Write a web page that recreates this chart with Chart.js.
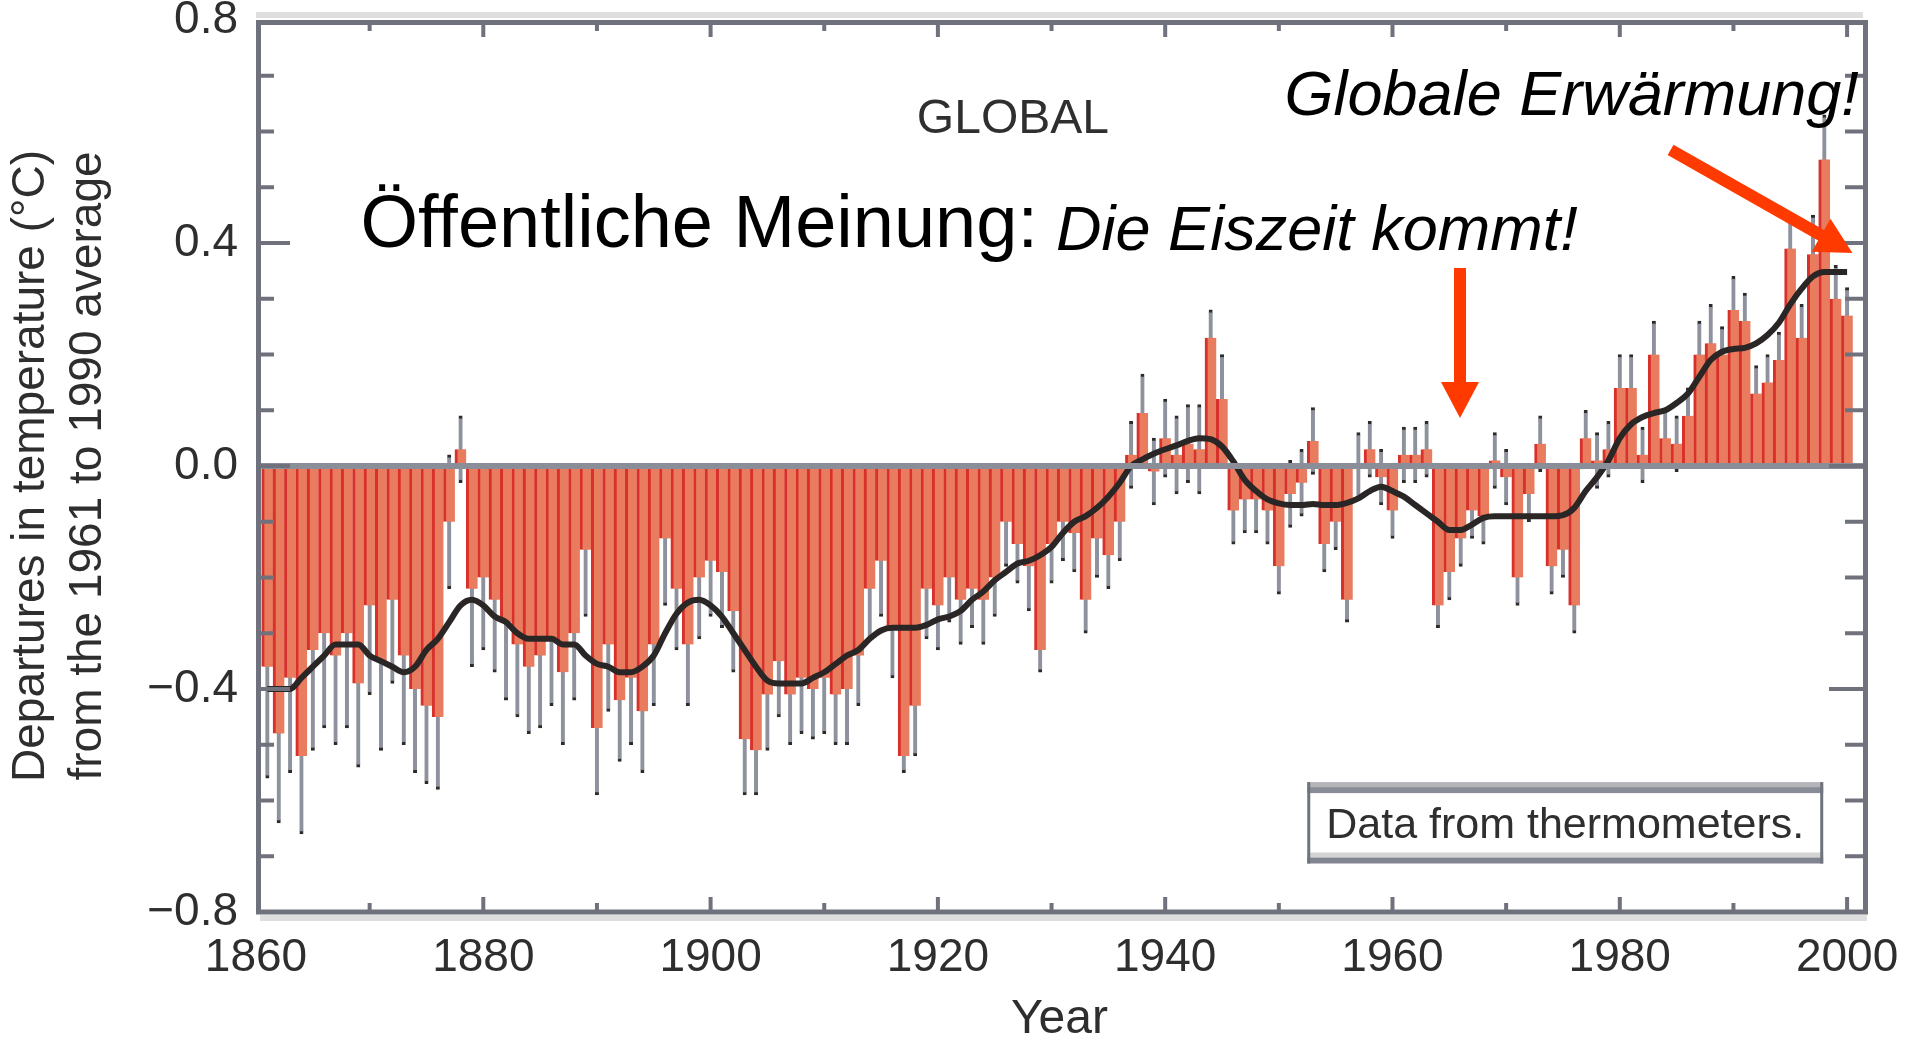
<!DOCTYPE html>
<html lang="de">
<head>
<meta charset="utf-8">
<title>Global temperature 1861-2000</title>
<script src="https://cdn.jsdelivr.net/npm/chart.js@4.4.1/dist/chart.umd.min.js"></script>
<style>
    html, body { margin: 0; padding: 0; background: #fff; }
    #wrap { width: 1920px; height: 1041px; }
</style>
</head>
<body>
<div id="wrap"><canvas id="tempChart" width="1920" height="1041"></canvas></div>
<script>
// Annual global temperature departures (deg C), 1861 to 2000
const firstYear = 1861;

const anomaly = [
    -0.36, -0.48, -0.38, -0.52, -0.33, -0.30, -0.34, -0.30, -0.39, -0.25,
    -0.35, -0.24, -0.34, -0.40, -0.43, -0.45, -0.10, 0.03, -0.22, -0.20,
    -0.24, -0.28, -0.32, -0.36, -0.34, -0.31, -0.37, -0.30, -0.15, -0.47,
    -0.32, -0.42, -0.38, -0.44, -0.32, -0.13, -0.22, -0.32, -0.20, -0.17,
    -0.19, -0.26, -0.49, -0.51, -0.41, -0.35, -0.41, -0.38, -0.40, -0.38,
    -0.41, -0.40, -0.34, -0.22, -0.17, -0.29, -0.52, -0.43, -0.22, -0.25,
    -0.20, -0.24, -0.22, -0.24, -0.20, -0.10, -0.14, -0.18, -0.33, -0.14,
    -0.10, -0.12, -0.24, -0.13, -0.16, -0.10, 0.02, 0.095, -0.01, 0.05,
    0.02, 0.04, 0.03, 0.23, 0.12, -0.08, -0.06, -0.06, -0.08, -0.18,
    -0.05, -0.03, 0.045, -0.14, -0.10, -0.24, 0.00, 0.03, -0.02, -0.08,
    0.02, 0.02, 0.03, -0.25, -0.19, -0.13, -0.08, -0.09, 0.01, -0.02,
    -0.20, -0.05, 0.04, -0.18, -0.15, -0.25, 0.05, 0.01, 0.03, 0.14,
    0.14, 0.02, 0.20, 0.05, 0.04, 0.09, 0.20, 0.22, 0.20, 0.28,
    0.26, 0.13, 0.15, 0.19, 0.39, 0.23, 0.38, 0.55, 0.30, 0.27
];

// half length of the grey whiskers
const uncertainty = [
    0.20, 0.16, 0.17, 0.14, 0.18, 0.17, 0.16, 0.17, 0.15, 0.16,
    0.16, 0.15, 0.16, 0.15, 0.14, 0.13, 0.12, 0.06, 0.14, 0.13,
    0.13, 0.14, 0.13, 0.12, 0.13, 0.12, 0.13, 0.12, 0.12, 0.12,
    0.12, 0.11, 0.12, 0.11, 0.11, 0.12, 0.11, 0.11, 0.11, 0.10,
    0.10, 0.11, 0.10, 0.08, 0.10, 0.10, 0.09, 0.10, 0.09, 0.10,
    0.09, 0.10, 0.09, 0.09, 0.10, 0.09, 0.03, 0.09, 0.09, 0.08,
    0.08, 0.08, 0.07, 0.08, 0.07, 0.08, 0.07, 0.08, 0.04, 0.07,
    0.07, 0.07, 0.06, 0.07, 0.06, 0.07, 0.06, 0.07, 0.06, 0.07,
    0.07, 0.07, 0.08, 0.05, 0.08, 0.06, 0.06, 0.06, 0.06, 0.05,
    0.06, 0.06, 0.06, 0.05, 0.05, 0.04, 0.06, 0.05, 0.05, 0.05,
    0.05, 0.05, 0.05, 0.04, 0.05, 0.05, 0.05, 0.05, 0.05, 0.05,
    0.05, 0.05, 0.05, 0.05, 0.05, 0.05, 0.05, 0.05, 0.05, 0.06,
    0.06, 0.05, 0.06, 0.05, 0.05, 0.05, 0.06, 0.07, 0.05, 0.06,
    0.05, 0.05, 0.05, 0.05, 0.05, 0.06, 0.07, 0.08, 0.06, 0.05
];

// the black smoothed curve
const smoothed = [
    -0.40, -0.40, -0.40, -0.38, -0.36, -0.34, -0.32, -0.32, -0.32, -0.34,
    -0.35, -0.36, -0.37, -0.36, -0.33, -0.31, -0.28, -0.25, -0.24, -0.25,
    -0.27, -0.28, -0.30, -0.31, -0.31, -0.31, -0.32, -0.32, -0.34, -0.355,
    -0.36, -0.37, -0.37, -0.36, -0.34, -0.30, -0.265, -0.245, -0.24, -0.25,
    -0.27, -0.30, -0.33, -0.36, -0.385, -0.39, -0.39, -0.39, -0.38, -0.37,
    -0.355, -0.34, -0.33, -0.31, -0.295, -0.29, -0.29, -0.29, -0.285, -0.275,
    -0.27, -0.26, -0.24, -0.225, -0.205, -0.19, -0.175, -0.17, -0.16, -0.145,
    -0.12, -0.10, -0.09, -0.075, -0.055, -0.03, 0.00, 0.012, 0.022, 0.03,
    0.037, 0.045, 0.05, 0.048, 0.035, 0.008, -0.025, -0.045, -0.06, -0.067,
    -0.07, -0.07, -0.068, -0.07, -0.07, -0.066, -0.058, -0.045, -0.037, -0.045,
    -0.055, -0.07, -0.085, -0.10, -0.115, -0.115, -0.105, -0.093, -0.09, -0.09,
    -0.09, -0.09, -0.09, -0.09, -0.088, -0.075, -0.045, -0.02, 0.01, 0.05,
    0.075, 0.088, 0.095, 0.10, 0.113, 0.13, 0.16, 0.19, 0.205, 0.21,
    0.212, 0.22, 0.235, 0.257, 0.29, 0.318, 0.34, 0.348, 0.348, 0.348
];

const years = anomaly.map((_, i) => firstYear + i);

const xTickLabels = ['1860', '1880', '1900', '1920', '1940', '1960', '1980', '2000'];
const yTickLabels = ['\u22120.8', '\u22120.4', '0.0', '0.4', '0.8'];
const yTitleLines = ['Departures in temperature (\u00B0C)', 'from the 1961 to 1990 average'];
const xTitle = 'Year';

const FONT = '"Liberation Sans", Arial, Helvetica, sans-serif';
const INK = '#2e2e2e';
const AXIS_GREY = '#6f727c';

// texts laid over the plot, anchored in data units (year, deg C)
const notes = [
    { text: 'GLOBAL', x: 1926.6, y: 0.598, font: '48px ' + FONT, color: '#2f2f2f', align: 'center' },
    { text: '\u00D6ffentliche Meinung:', x: 1869.2, y: 0.393, font: '74px ' + FONT, color: '#000', align: 'left' },
    { text: 'Die Eiszeit kommt!', x: 1930.4, y: 0.388, font: 'italic 63px ' + FONT, color: '#000', align: 'left' },
    { text: 'Globale Erw\u00E4rmung!', x: 1950.5, y: 0.630, font: 'italic 63px ' + FONT, color: '#000', align: 'left' }
];

// red arrows, tail and tip in data units
const arrows = [
    { from: [1965.94, 0.355], to: [1965.94, 0.086] },
    { from: [1984.47, 0.567], to: [2000.47, 0.382] }
];

// "Data from thermometers." box, corners in data units
const sourceBox = { text: 'Data from thermometers.', x0: 1952.5, x1: 1997.9, y0: -0.567, y1: -0.713, base: -0.668 };

// Frame, zero line and inward tick marks
const framePlugin = {
    id: 'frame',
    afterDatasetsDraw(chart) {
        const { ctx, chartArea: a, scales: { x, y } } = chart;
        ctx.save();

        // thick zero line
        const y0 = y.getPixelForValue(0);
        ctx.strokeStyle = '#8a8e99';
        ctx.lineWidth = 6;
        ctx.beginPath();
        ctx.moveTo(a.left, y0);
        ctx.lineTo(a.right, y0);
        ctx.stroke();

        // pale shadow above and below the box
        ctx.fillStyle = '#dedede';
        ctx.fillRect(a.left, a.top - 8, a.right - a.left, 6);
        ctx.fillRect(a.left + 4, a.bottom + 3, a.right - a.left, 6);

        ctx.strokeStyle = AXIS_GREY;
        ctx.lineWidth = 5;
        ctx.strokeRect(a.left + 2.5, a.top + 2.5, a.right - a.left, a.bottom - a.top - 2.5);

        ctx.lineWidth = 4;
        ctx.beginPath();
        for (let k = -7; k <= 7; k++) {
            const py = y.getPixelForValue(k / 10);
            const len = k % 4 === 0 ? 34 : 18;
            ctx.moveTo(a.left, py);
            ctx.lineTo(a.left + len, py);
            ctx.moveTo(a.right, py);
            ctx.lineTo(a.right - len, py);
        }
        for (let yr = 1870; yr <= 2000; yr += 10) {
            const px = x.getPixelForValue(yr);
            const len = yr % 20 === 0 ? 15 : 9;
            ctx.moveTo(px, a.bottom);
            ctx.lineTo(px, a.bottom - len);
            ctx.moveTo(px, a.top + 2);
            ctx.lineTo(px, a.top + 2 + len);
        }
        ctx.stroke();
        ctx.restore();
    }
};

function drawArrow(ctx, x1, y1, x2, y2) {
    const dx = x2 - x1;
    const dy = y2 - y1;
    const len = Math.hypot(dx, dy);
    const ux = dx / len;
    const uy = dy / len;
    const head = 36;
    const half = 19;
    const bx = x2 - ux * head;
    const by = y2 - uy * head;

    ctx.lineWidth = 12;
    ctx.lineCap = 'butt';
    ctx.beginPath();
    ctx.moveTo(x1, y1);
    ctx.lineTo(bx + ux * 2, by + uy * 2);
    ctx.stroke();

    ctx.beginPath();
    ctx.moveTo(x2, y2);
    ctx.lineTo(bx - uy * half, by + ux * half);
    ctx.lineTo(bx + uy * half, by - ux * half);
    ctx.closePath();
    ctx.fill();
}

// Annotation texts, arrows and the source box
const notesPlugin = {
    id: 'notes',
    afterDraw(chart) {
        const { ctx, scales: { x, y } } = chart;
        ctx.save();

        notes.forEach(n => {
            ctx.font = n.font;
            ctx.fillStyle = n.color;
            ctx.textAlign = n.align;
            ctx.textBaseline = 'alphabetic';
            ctx.fillText(n.text, x.getPixelForValue(n.x), y.getPixelForValue(n.y));
        });

        ctx.strokeStyle = '#ff3a00';
        ctx.fillStyle = '#ff3a00';
        arrows.forEach(ar => {
            drawArrow(ctx,
                x.getPixelForValue(ar.from[0]), y.getPixelForValue(ar.from[1]),
                x.getPixelForValue(ar.to[0]), y.getPixelForValue(ar.to[1]));
        });

        // box with grey double border
        const bx0 = x.getPixelForValue(sourceBox.x0);
        const bx1 = x.getPixelForValue(sourceBox.x1);
        const by0 = y.getPixelForValue(sourceBox.y0);
        const by1 = y.getPixelForValue(sourceBox.y1);
        const w = bx1 - bx0;
        ctx.fillStyle = '#fff';
        ctx.fillRect(bx0, by0, w, by1 - by0);
        ctx.fillStyle = '#b3b5b9';
        ctx.fillRect(bx0, by0, w, 5);
        ctx.fillStyle = '#878c96';
        ctx.fillRect(bx0, by0 + 5, w, 6);
        ctx.fillStyle = '#d3d3d3';
        ctx.fillRect(bx0, by1 - 11, w, 5);
        ctx.fillStyle = '#80858f';
        ctx.fillRect(bx0, by1 - 6, w, 6);
        ctx.fillStyle = '#6f737c';
        ctx.fillRect(bx0, by0, 3, by1 - by0);
        ctx.fillRect(bx1 - 3, by0, 3, by1 - by0);

        ctx.font = '43px ' + FONT;
        ctx.fillStyle = '#2f2f2f';
        ctx.textAlign = 'center';
        ctx.textBaseline = 'alphabetic';
        ctx.fillText(sourceBox.text, (bx0 + bx1) / 2, y.getPixelForValue(sourceBox.base));

        ctx.restore();
    }
};

function initTempChart() {
    const canvas = document.getElementById('tempChart');

    Chart.defaults.font.family = FONT;
    Chart.defaults.color = INK;

    return new Chart(canvas, {
        type: 'bar',
        data: {
            datasets: [
                {
                    type: 'line',
                    label: 'Smoothed',
                    data: years.map((yr, i) => ({ x: yr, y: smoothed[i] })),
                    borderColor: '#2b2626',
                    borderWidth: 6,
                    pointRadius: 0,
                    cubicInterpolationMode: 'monotone',
                    order: 1
                },
                {
                    label: 'Annual',
                    data: years.map((yr, i) => ({ x: yr, y: anomaly[i] })),
                    backgroundColor: '#e97b5e',
                    borderColor: '#d8302a',
                    borderWidth: { left: 3, right: 0, top: 0, bottom: 0 },
                    borderSkipped: false,
                    barPercentage: 1,
                    categoryPercentage: 1,
                    grouped: false,
                    order: 2
                },
                {
                    label: 'Range',
                    data: years.map((yr, i) => ({ x: yr, y: [anomaly[i] - uncertainty[i], anomaly[i] + uncertainty[i]] })),
                    backgroundColor: '#8e929c',
                    borderColor: '#2d2a2a',
                    borderWidth: { left: 0, right: 0, top: 3, bottom: 3 },
                    borderSkipped: false,
                    barThickness: 4,
                    grouped: false,
                    order: 3
                }
            ]
        },
        options: {
            responsive: false,
            devicePixelRatio: 1,
            animation: false,
            events: [],
            layout: {
                padding: { top: 20, right: 57, bottom: 0, left: 0 }
            },
            plugins: {
                legend: { display: false },
                tooltip: { enabled: false }
            },
            scales: {
                x: {
                    type: 'linear',
                    min: 1860,
                    max: 2001.4,
                    offset: false,
                    grid: { display: false, drawTicks: false },
                    border: { display: false },
                    ticks: {
                        stepSize: 20,
                        includeBounds: false,
                        autoSkip: false,
                        maxRotation: 0,
                        padding: 19,
                        color: INK,
                        font: { size: 46 },
                        callback: (value) => {
                            const i = Math.round((value - 1860) / 20);
                            return Math.abs(value - (1860 + i * 20)) < 0.01 ? (xTickLabels[i] || '') : '';
                        }
                    },
                    title: {
                        display: true,
                        text: xTitle,
                        color: INK,
                        font: { size: 48, lineHeight: 0.9 },
                        padding: 0
                    },
                    afterFit: (scale) => {
                        scale.height = 129;
                        scale.paddingLeft = 0;
                        scale.paddingRight = 0;
                    }
                },
                y: {
                    min: -0.8,
                    max: 0.8,
                    grid: { display: false, drawTicks: false },
                    border: { display: false },
                    ticks: {
                        stepSize: 0.4,
                        padding: 18,
                        color: INK,
                        font: { size: 46 },
                        callback: (value) => yTickLabels[Math.round((value + 0.8) / 0.4)] || ''
                    },
                    title: {
                        display: true,
                        text: yTitleLines,
                        color: INK,
                        font: { size: 46, lineHeight: 57 / 46 },
                        padding: { top: 2.5, bottom: 0 }
                    },
                    afterFit: (scale) => {
                        scale.width = 256;
                        scale.paddingTop = 0;
                        scale.paddingBottom = 0;
                    }
                }
            }
        },
        plugins: [framePlugin, notesPlugin]
    });
}

window.tempChartInstance = initTempChart();
</script>
</body>
</html>
